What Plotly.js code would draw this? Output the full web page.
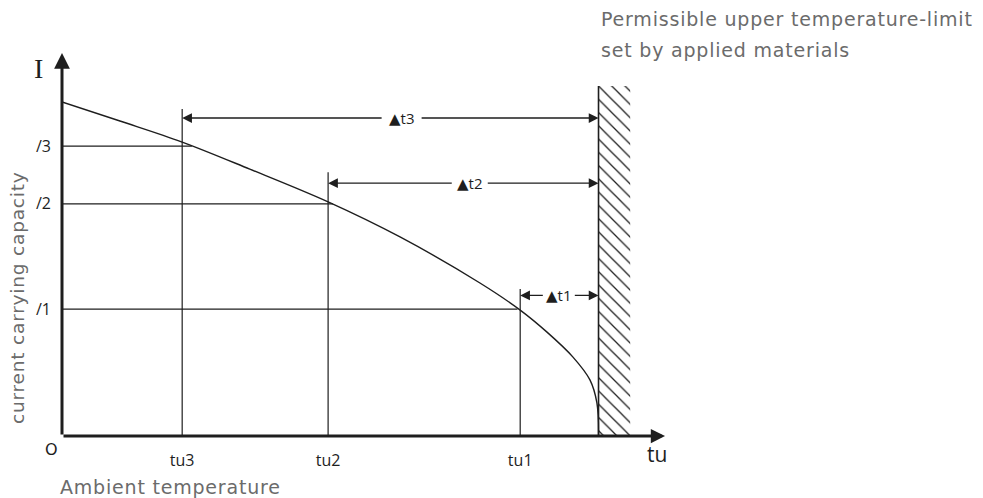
<!DOCTYPE html>
<html><head><meta charset="utf-8">
<script src="https://cdn.plot.ly/plotly-3.0.1.min.js"></script>
<style>html,body{margin:0;padding:0;background:#fff}#chart{width:983px;height:498px}</style>
</head><body><div id="chart"></div>
<script>
// ---- data (schematic units: ambient temperature 0..100 at the limit, current 0..100 at origin) ----
const tempLabels = ['tu1', 'tu2', 'tu3'];
const tempValues = [85.4, 49.6, 22.4];
const currentLabels = ['/1', '/2', '/3'];
const currentValues = [38.0, 69.5, 86.8];
const crossTemps = [84.9, 50.5, 24.2];      // where each current level meets the curve
const deltaLabels = ['▲t1', '▲t2', '▲t3'];
const tempLimit = 100;
const curveTemp = [0, 10.8, 22.4, 35.0, 49.6, 63.0, 77.9, 85.4, 90.4, 95.2, 98.4, 99.7, 100];
const curveCurrent = [100, 94.3, 88.0, 79.9, 70.1, 59.6, 45.8, 37.7, 31.1, 23.7, 16.8, 9.9, 0];

// ---- layout helpers (positions, not data) ----
const dimLevels = [42.1, 75.7, 95.2];
const dimLabelX = [92.6, 76.0, 63.3];
const dimPads = [3, 5, 7];
const vertTops = [44.0, 79.0, 97.9];
const hatchTop = 104.8;
const hatchWidth = 5.9;
const ink = '#1e1e1e';
const grey = '#6b6b6b';
const ls = t => '<span style="letter-spacing:0.8px">' + t + '</span>';

const traces = [];
// hatched forbidden zone
traces.push({
  type: 'bar', x: [tempLimit + hatchWidth / 2], y: [hatchTop], width: [hatchWidth],
  marker: { color: ink, line: { width: 0 },
    pattern: { shape: '\\', bgcolor: 'white', fgcolor: ink, size: 9.374, solidity: 0.14 } },
  hoverinfo: 'skip', showlegend: false
});
// limit line
traces.push({ type: 'scatter', mode: 'lines', x: [tempLimit, tempLimit], y: [0, hatchTop],
  line: { color: ink, width: 1.6 }, hoverinfo: 'skip', showlegend: false });
// verticals at tu
tempValues.forEach((t, i) => traces.push({ type: 'scatter', mode: 'lines', x: [t, t], y: [0, vertTops[i]],
  line: { color: ink, width: 1.2 }, hoverinfo: 'skip', showlegend: false }));
// horizontals at I
currentValues.forEach((c, i) => traces.push({ type: 'scatter', mode: 'lines', x: [0, crossTemps[i]], y: [c, c],
  line: { color: ink, width: 1.2 }, hoverinfo: 'skip', showlegend: false }));
// curve
traces.push({ type: 'scatter', mode: 'lines', x: curveTemp, y: curveCurrent,
  line: { color: ink, width: 1.4, shape: 'spline', smoothing: 1 }, hoverinfo: 'skip', showlegend: false });

const annotations = [];
// axes with arrows
annotations.push({ x: 0, y: 114.7, ax: 0, ay: 0, xref: 'x', yref: 'y', axref: 'x', ayref: 'y', text: '',
  showarrow: true, arrowhead: 2, arrowwidth: 3, arrowsize: 1.05, arrowcolor: ink, standoff: 0 });
annotations.push({ x: 112.4, y: 0, ax: 0, ay: 0, xref: 'x', yref: 'y', axref: 'x', ayref: 'y', text: '',
  showarrow: true, arrowhead: 2, arrowwidth: 3, arrowsize: 0.95, arrowcolor: ink, standoff: 0 });
// dimension arrows
deltaLabels.forEach((lab, i) => {
  const common = { y: dimLevels[i], ax: dimLabelX[i], ay: dimLevels[i], xref: 'x', yref: 'y', axref: 'x', ayref: 'y',
    text: lab, showarrow: true, arrowhead: 2, arrowwidth: 1.3, arrowsize: 1.5, arrowcolor: ink, standoff: 0,
    borderpad: dimPads[i], font: { family: 'Open Sans, DejaVu Sans', size: 15, color: ink } };
  annotations.push(Object.assign({}, common, { x: tempValues[i] }));
  annotations.push(Object.assign({}, common, { x: tempLimit, font: { family: 'Open Sans, DejaVu Sans', size: 15, color: 'rgba(0,0,0,0)' } }));
});
// labels
const P = (px, py) => ({ xref: 'paper', yref: 'paper', x: (px - 62) / 606, y: (436 - py) / 396, xanchor: 'center', yanchor: 'middle', showarrow: false });
annotations.push(Object.assign(P(38.5, 68), { text: 'I', font: { family: 'Liberation Serif, DejaVu Serif', size: 28, color: ink } }));
annotations.push(Object.assign(P(51, 449), { text: 'O', font: { family: 'DejaVu Sans', size: 16, color: ink } }));
annotations.push(Object.assign(P(656.5, 454), { text: 'tu', font: { family: 'Open Sans, DejaVu Sans', size: 21, color: ink } }));
annotations.push(Object.assign(P(58, 487), { xanchor: 'left', text: ls('Ambient temperature'),
  font: { family: 'DejaVu Sans', size: 19, color: grey } }));
annotations.push(Object.assign(P(17.5, 297.5), { textangle: -90, text: ls('current carrying capacity'),
  font: { family: 'DejaVu Sans', size: 18.5, color: grey } }));
annotations.push(Object.assign(P(598.5, 19), { xanchor: 'left', text: ls('Permissible upper temperature-limit'),
  font: { family: 'DejaVu Sans', size: 19, color: grey } }));
annotations.push(Object.assign(P(598.5, 50), { xanchor: 'left', text: ls('set by applied materials'),
  font: { family: 'DejaVu Sans', size: 19, color: grey } }));

const layout = {
  width: 983, height: 498,
  margin: { l: 62, r: 315, t: 40, b: 62 },
  paper_bgcolor: 'white', plot_bgcolor: 'white',
  showlegend: false,
  xaxis: { range: [0, 112.95], showgrid: false, zeroline: false, showline: false, ticks: '',
    tickvals: tempValues, ticktext: tempLabels, ticklabelstandoff: 13,
    tickfont: { family: 'Open Sans, DejaVu Sans', size: 16, color: ink }, fixedrange: true },
  yaxis: { range: [0, 118.56], showgrid: false, zeroline: false, showline: false, ticks: '',
    tickvals: currentValues, ticktext: currentLabels, ticklabelstandoff: 10,
    tickfont: { family: 'Open Sans, DejaVu Sans', size: 16, color: ink }, fixedrange: true },
  annotations: annotations
};
Plotly.newPlot('chart', traces, layout, { displayModeBar: false, staticPlot: true });
</script></body></html>
